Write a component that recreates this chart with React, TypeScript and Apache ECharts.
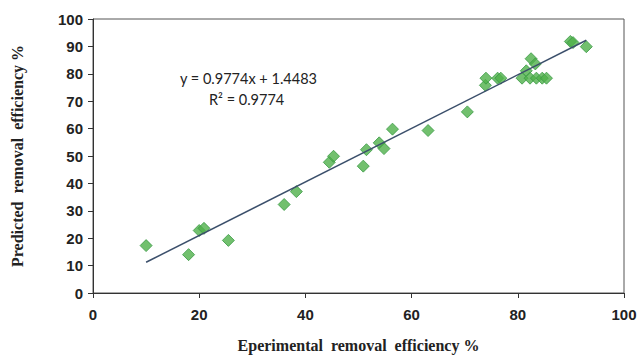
import React, { useEffect, useRef } from "react";
import * as echarts from "echarts";

const EXP_X = [10.0, 18.0, 20.0, 20.9, 25.5, 36.0, 38.3, 44.5, 45.3, 50.9, 51.5, 53.9, 54.8, 56.4, 63.1, 70.5, 73.9, 74.0, 76.2, 76.8, 80.8, 81.6, 82.5, 82.3, 83.3, 83.5, 84.6, 85.4, 89.9, 90.4, 92.9];
const PRED_Y = [17.3, 14.0, 22.8, 23.6, 19.2, 32.3, 37.0, 47.7, 49.9, 46.3, 52.3, 54.8, 52.7, 59.8, 59.3, 66.1, 75.8, 78.4, 78.4, 78.4, 78.4, 81.1, 85.5, 78.4, 83.6, 78.4, 78.4, 78.4, 91.8, 91.4, 89.9];
const SLOPE = 0.9774;
const INTERCEPT = 1.4483;
const TREND_X = [10, 92.9];
const X_TICKS = [0, 20, 40, 60, 80, 100];
const Y_TICKS = [0, 10, 20, 30, 40, 50, 60, 70, 80, 90, 100];

export default function App() {
  const ref = useRef<HTMLDivElement>(null);
  useEffect(() => {
    if (!ref.current) return;
    const chart = echarts.init(ref.current, null, { renderer: "svg" });
    const points = EXP_X.map((x, i) => [x, PRED_Y[i]]);
    const trend = TREND_X.map((x) => [x, SLOPE * x + INTERCEPT]);
    chart.setOption({
      animation: false,
      backgroundColor: "#ffffff",
      grid: {
        left: 93, right: 16, top: 19, bottom: 62,
        containLabel: false, outerBoundsMode: "none",
        show: true, borderColor: "#555555", borderWidth: 1,
      },
      xAxis: {
        type: "value",
        min: X_TICKS[0],
        max: X_TICKS[X_TICKS.length - 1],
        interval: 20,
        splitLine: { show: false },
        axisLine: { show: true, onZero: false, lineStyle: { color: "#333", width: 1 } },
        axisTick: { show: true, inside: false, length: 5, lineStyle: { color: "#333" } },
        axisLabel: { color: "#222", fontFamily: "Liberation Sans", fontWeight: "bold", fontSize: 15, margin: 14 },
        name: "Eperimental  removal  efficiency %",
        nameLocation: "middle",
        nameGap: 44,
        nameTextStyle: { color: "#222", fontFamily: "Liberation Serif", fontWeight: "bold", fontSize: 16 },
      },
      yAxis: {
        type: "value",
        min: Y_TICKS[0],
        max: Y_TICKS[Y_TICKS.length - 1],
        interval: 10,
        splitLine: { show: false },
        axisLine: { show: true, onZero: false, lineStyle: { color: "#333", width: 1 } },
        axisTick: { show: true, inside: false, length: 5, lineStyle: { color: "#333" } },
        axisLabel: { color: "#222", fontFamily: "Liberation Sans", fontWeight: "bold", fontSize: 15, margin: 10 },
        name: "Predicted  removal  efficiency %",
        nameLocation: "middle",
        nameGap: 68,
        nameTextStyle: { color: "#222", fontFamily: "Liberation Serif", fontWeight: "bold", fontSize: 16 },
      },
      series: [
        {
          type: "line",
          data: trend,
          symbol: "none",
          lineStyle: { color: "#3b4f6b", width: 1.5 },
          z: 3,
        },
        {
          type: "scatter",
          data: points,
          symbol: "diamond",
          symbolSize: 12,
          itemStyle: { color: "#4fb04a", borderColor: "#3a9a45", borderWidth: 1 },
          z: 2,
        },
      ],
      graphic: [
        {
          type: "text",
          left: 180,
          top: 71,
          style: {
            text: "y = 0.9774x + 1.4483",
            fill: "#222",
            fontFamily: "Lato",
            fontSize: 14.5,
          },
        },
        {
          type: "text",
          left: 209,
          top: 92,
          style: {
            text: "R² = 0.9774",
            fill: "#222",
            fontFamily: "Lato",
            fontSize: 14.5,
          },
        },
      ],
    });
    return () => chart.dispose();
  }, []);
  return <div ref={ref} style={{ position: "fixed", left: 0, top: 0, width: 640, height: 355 }} />;
}
